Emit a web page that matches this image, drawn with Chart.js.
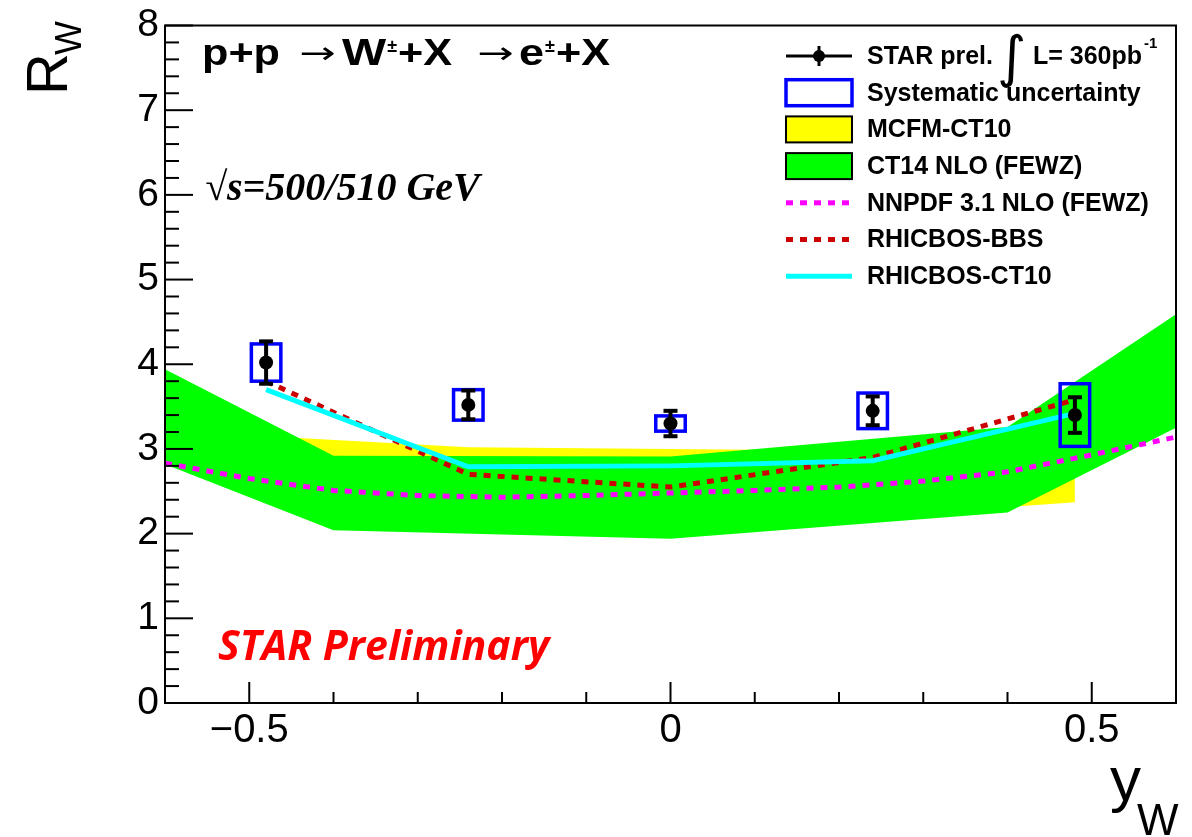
<!DOCTYPE html>
<html>
<head>
<meta charset="utf-8">
<title>R_W vs y_W</title>
<script src="https://cdn.jsdelivr.net/npm/chart.js@4.4.1/dist/chart.umd.min.js"></script>
<style>
  html, body { margin: 0; padding: 0; background: #fff; }
  #wrap { width: 1192px; height: 837px; }
</style>
</head>
<body>
<div id="wrap"><canvas id="rw" width="1192" height="837"></canvas></div>
<script>
// STAR W+/W- ratio vs W rapidity
const yW = [-0.48, -0.24, 0, 0.24, 0.48];
const rW = [4.02, 3.52, 3.30, 3.45, 3.40];
const statErr = [0.25, 0.17, 0.15, 0.17, 0.21];
const sysErr = [0.22, 0.18, 0.09, 0.21, 0.37];

// MCFM-CT10 band, same rapidity bins
const mcfmHi = [3.15, 3.02, 3.00, 2.98, 2.95];
const mcfmLo = [2.45, 2.30, 2.20, 2.20, 2.37];

// CT14 NLO (FEWZ) band
const ct14X = [-0.6, -0.4, 0, 0.4, 0.6];
const ct14Hi = [3.94, 2.92, 2.91, 3.26, 4.59];
const ct14Lo = [2.82, 2.04, 1.94, 2.25, 3.25];

// NNPDF 3.1 NLO (FEWZ)
const nnpdfX = [-0.6, -0.5, -0.4, -0.3, -0.2, -0.1, 0, 0.1, 0.2, 0.3, 0.4, 0.5, 0.6];
const nnpdf = [2.83, 2.65, 2.51, 2.45, 2.43, 2.45, 2.48, 2.51, 2.55, 2.62, 2.73, 2.93, 3.14];

// RHICBOS curves at the data rapidities
const rhicbosBBS = [3.80, 2.70, 2.55, 2.90, 3.58];
const rhicbosCT10 = [3.70, 2.79, 2.80, 2.86, 3.42];

const yTicks = [0, 1, 2, 3, 4, 5, 6, 7, 8];
const xTicks = [-0.5, 0, 0.5];

const pts = (xs, ys) => xs.map((x, i) => ({ x: x, y: ys[i] }));

const SANS = '"Liberation Sans", Arial, Helvetica, sans-serif';
const BOX_HALF = 0.0175;

function line(ctx, x1, y1, x2, y2) {
  ctx.beginPath();
  ctx.moveTo(x1, y1);
  ctx.lineTo(x2, y2);
  ctx.stroke();
}

// systematic boxes + stat error bars, drawn just before the data points
function drawErrors(chart) {
  const ctx = chart.ctx;
  const xs = chart.scales.x, ys = chart.scales.y;
  ctx.save();
  yW.forEach((v, i) => {
    const l = xs.getPixelForValue(v - BOX_HALF);
    const r = xs.getPixelForValue(v + BOX_HALF);
    const t = ys.getPixelForValue(rW[i] + sysErr[i]);
    const b = ys.getPixelForValue(rW[i] - sysErr[i]);
    ctx.strokeStyle = '#0000ff';
    ctx.lineWidth = 3.5;
    ctx.strokeRect(l, t, r - l, b - t);
  });
  ctx.strokeStyle = '#000';
  ctx.lineWidth = 4;
  yW.forEach((v, i) => {
    const px = xs.getPixelForValue(v);
    const t = ys.getPixelForValue(rW[i] + statErr[i]);
    const b = ys.getPixelForValue(rW[i] - statErr[i]);
    line(ctx, px, t, px, b);
    line(ctx, px - 7, t, px + 7, t);
    line(ctx, px - 7, b, px + 7, b);
  });
  ctx.restore();
}

function drawFrame(chart) {
  const ctx = chart.ctx;
  const a = chart.chartArea;
  const xs = chart.scales.x, ys = chart.scales.y;
  ctx.save();
  ctx.strokeStyle = '#000';
  ctx.lineWidth = 2;
  // y ticks, inside the frame
  for (let i = 0; i <= 40; i++) {
    const py = ys.getPixelForValue(i / 5);
    const len = i % 5 === 0 ? 28 : 14;
    line(ctx, a.left, py, a.left + len, py);
  }
  // x ticks
  for (let i = -5; i <= 5; i++) {
    const px = xs.getPixelForValue(i / 10);
    const len = i % 5 === 0 ? 21 : 11;
    line(ctx, px, a.bottom, px, a.bottom - len);
  }
  ctx.strokeRect(a.left, a.top, a.right - a.left, a.bottom - a.top);
  ctx.restore();
}

// text drawn with a horizontal stretch; returns the x where it ends
function wide(ctx, txt, font, x, y, sx) {
  ctx.save();
  ctx.font = font;
  const w = ctx.measureText(txt).width * sx;
  ctx.translate(x, y);
  ctx.scale(sx, 1);
  ctx.fillText(txt, 0, 0);
  ctx.restore();
  return x + w;
}

function drawTexts(chart) {
  const ctx = chart.ctx;
  ctx.save();
  ctx.fillStyle = '#000';
  ctx.textBaseline = 'alphabetic';
  ctx.textAlign = 'left';

  // axis titles
  ctx.save();
  ctx.translate(67, 95);
  ctx.rotate(-Math.PI / 2);
  ctx.font = '58px ' + SANS;
  ctx.fillText('R', 0, 0);
  ctx.font = '36px ' + SANS;
  ctx.fillText('W', 40, 14);
  ctx.restore();

  ctx.font = '62px ' + SANS;
  ctx.fillText('y', 1110, 800);
  ctx.font = '44px ' + SANS;
  ctx.fillText('W', 1137, 835);

  // reaction
  const B = 'bold 36px ' + SANS;
  const S = 'bold 18px ' + SANS;
  const A = '30px "DejaVu Sans"';
  const base = 65;
  let x;
  wide(ctx, 'p+p', B, 202, base, 1.2);
  wide(ctx, '\u2192', A, 299, base - 2, 1.45);
  x = wide(ctx, 'W', B, 342, base, 1.3);
  x = wide(ctx, '\u00b1', S, x + 1, base - 13, 1.0);
  wide(ctx, '+X', B, x + 1, base, 1.2);
  wide(ctx, '\u2192', A, 477, base - 2, 1.45);
  x = wide(ctx, 'e', B, 519, base, 1.25);
  x = wide(ctx, '\u00b1', S, x + 1, base - 13, 1.0);
  wide(ctx, '+X', B, x + 1, base, 1.2);

  ctx.font = 'bold italic 40px "Liberation Serif", "Times New Roman", serif';
  ctx.fillText('\u221as=500/510 GeV', 205, 200);

  ctx.fillStyle = '#ff0000';
  ctx.font = 'italic bold 41px "Open Sans", sans-serif';
  ctx.fillText('STAR Preliminary', 218, 660);
  ctx.restore();
}

function drawLegend(chart) {
  const ctx = chart.ctx;
  const x0 = 786, x1 = 852, tx = 867;
  const row = i => 56 + i * 36.7;
  const F = 'bold 25px ' + SANS;
  ctx.save();
  ctx.textBaseline = 'middle';
  ctx.textAlign = 'left';
  ctx.font = F;
  ctx.fillStyle = '#000';

  // data marker
  let y = row(0);
  ctx.strokeStyle = '#000';
  ctx.lineWidth = 3;
  line(ctx, x0, y, x1, y);
  line(ctx, 819, y - 10, 819, y + 10);
  ctx.beginPath();
  ctx.arc(819, y, 6, 0, Math.PI * 2);
  ctx.fill();
  ctx.fillText('STAR prel.', tx, y + 1);
  ctx.font = '56px "DejaVu Sans"';
  ctx.fillText('\u222b', 997, y + 5);
  ctx.font = F;
  ctx.fillText('L= 360pb', 1033, y + 1);
  ctx.font = 'bold 15px ' + SANS;
  ctx.fillText('-1', 1144, y - 12);

  // boxes
  const boxes = [
    { fill: '#ffffff', stroke: '#0000ff', w: 3.5, text: 'Systematic uncertainty' },
    { fill: '#ffff00', stroke: '#000000', w: 2, text: 'MCFM-CT10' },
    { fill: '#00ff00', stroke: '#000000', w: 2, text: 'CT14 NLO (FEWZ)' }
  ];
  ctx.font = F;
  boxes.forEach((b, k) => {
    const yy = row(k + 1);
    ctx.fillStyle = b.fill;
    ctx.fillRect(x0, yy - 13, x1 - x0, 26);
    ctx.strokeStyle = b.stroke;
    ctx.lineWidth = b.w;
    ctx.strokeRect(x0, yy - 13, x1 - x0, 26);
    ctx.fillStyle = '#000';
    ctx.fillText(b.text, tx, yy + 1);
  });

  // lines
  const lines = [
    { color: '#ff00ff', dash: [7, 7], w: 5, text: 'NNPDF 3.1 NLO (FEWZ)' },
    { color: '#cc0000', dash: [7, 7], w: 5, text: 'RHICBOS-BBS' },
    { color: '#00ffff', dash: [], w: 5, text: 'RHICBOS-CT10' }
  ];
  lines.forEach((l, k) => {
    const yy = row(k + 4);
    ctx.strokeStyle = l.color;
    ctx.lineWidth = l.w;
    ctx.setLineDash(l.dash);
    line(ctx, x0, yy, x1, yy);
    ctx.setLineDash([]);
    ctx.fillStyle = '#000';
    ctx.fillText(l.text, tx, yy + 1);
  });
  ctx.restore();
}

const rootStyle = {
  id: 'rootStyle',
  beforeDatasetDraw(chart, args) {
    if (args.index === 0) drawErrors(chart);
  },
  afterDraw(chart) {
    drawFrame(chart);
    drawTexts(chart);
    drawLegend(chart);
  }
};

const band = (data, color, fill, order) => ({
  data: data,
  borderWidth: 0,
  borderColor: 'rgba(0,0,0,0)',
  backgroundColor: color,
  pointRadius: 0,
  fill: fill,
  order: order
});

new Chart(document.getElementById('rw'), {
  type: 'line',
  data: {
    datasets: [
      {
        label: 'STAR prel.',
        data: pts(yW, rW),
        showLine: false,
        pointRadius: 7,
        pointBackgroundColor: '#000',
        pointBorderWidth: 0,
        order: 0
      },
      {
        label: 'RHICBOS-CT10',
        data: pts(yW, rhicbosCT10),
        borderColor: '#00ffff',
        borderWidth: 5,
        pointRadius: 0,
        fill: false,
        order: 1
      },
      {
        label: 'RHICBOS-BBS',
        data: pts(yW, rhicbosBBS),
        borderColor: '#cc0000',
        borderWidth: 5,
        borderDash: [7, 7],
        pointRadius: 0,
        fill: false,
        order: 2
      },
      {
        label: 'NNPDF 3.1 NLO (FEWZ)',
        data: pts(nnpdfX, nnpdf),
        borderColor: '#ff00ff',
        borderWidth: 5,
        borderDash: [7, 7],
        pointRadius: 0,
        fill: false,
        order: 3
      },
      band(pts(ct14X, ct14Hi), '#00ff00', { target: 5 }, 4),
      band(pts(ct14X, ct14Lo), '#00ff00', false, 5),
      band(pts(yW, mcfmHi), '#ffff00', { target: 7 }, 6),
      band(pts(yW, mcfmLo), '#ffff00', false, 7)
    ]
  },
  options: {
    responsive: false,
    devicePixelRatio: 1,
    animation: false,
    layout: { padding: { top: 21, right: 16, left: 0, bottom: 0 } },
    elements: { line: { tension: 0 } },
    plugins: {
      legend: { display: false },
      tooltip: { enabled: false }
    },
    scales: {
      x: {
        type: 'linear',
        min: -0.6,
        max: 0.6,
        afterBuildTicks: s => { s.ticks = xTicks.map(v => ({ value: v })); },
        afterFit: s => { s.height = 134; },
        grid: { display: false, drawTicks: false },
        border: { display: false },
        ticks: {
          padding: 8,
          color: '#000',
          font: { family: SANS, size: 40, lineHeight: 1 },
          callback: v => (v < 0 ? '\u2212' + Math.abs(v) : String(v))
        }
      },
      y: {
        min: 0,
        max: 8,
        afterBuildTicks: s => { s.ticks = yTicks.map(v => ({ value: v })); },
        afterFit: s => { s.width = 165; },
        grid: { display: false, drawTicks: false },
        border: { display: false },
        ticks: {
          padding: 6,
          color: '#000',
          font: { family: SANS, size: 39, lineHeight: 1 }
        }
      }
    }
  },
  plugins: [rootStyle]
});
</script>
</body>
</html>
